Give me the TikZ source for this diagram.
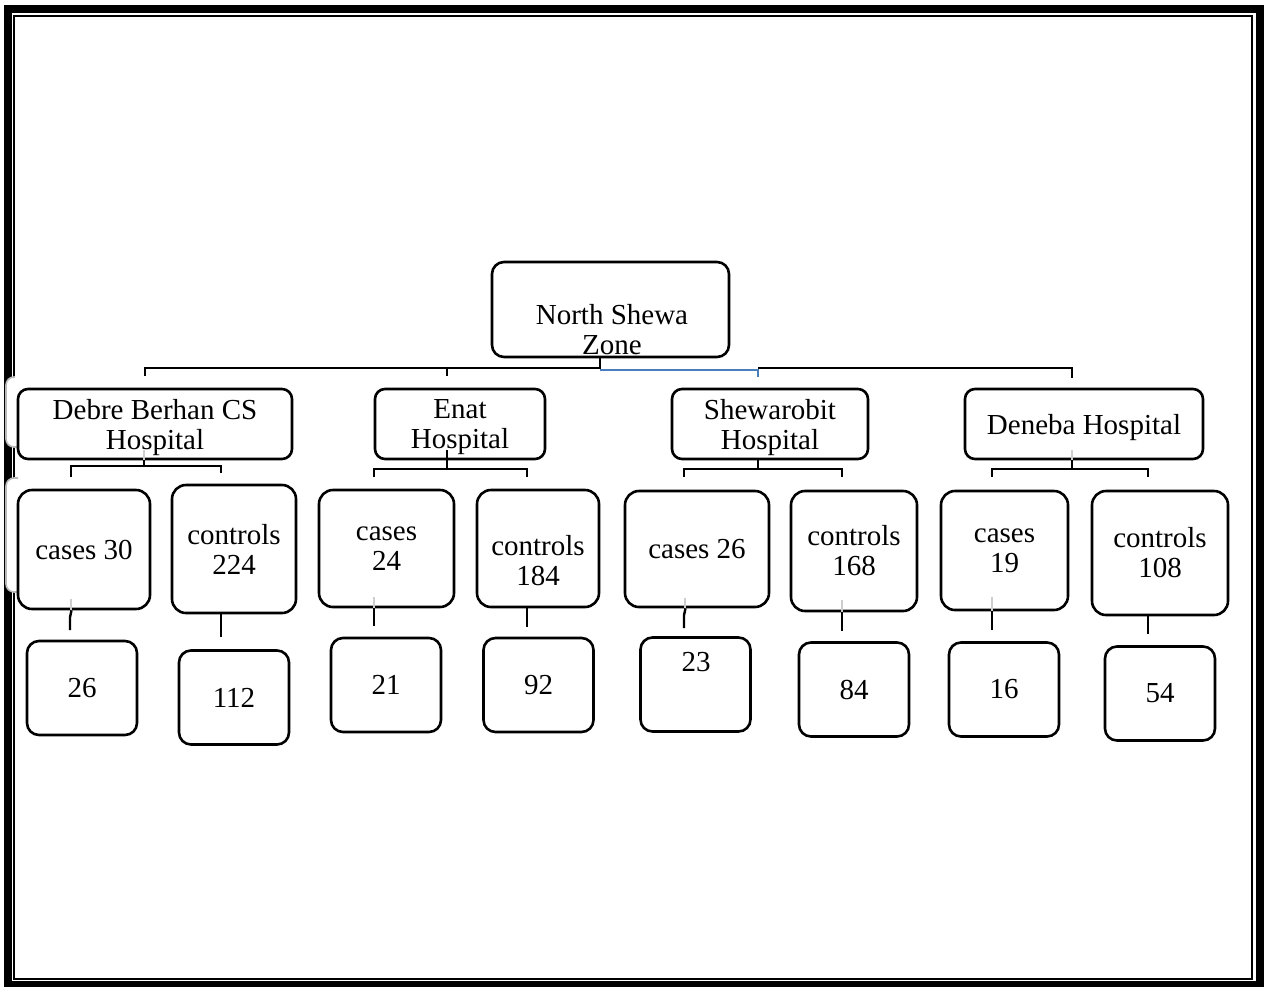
\documentclass[tikz,border=0pt]{standalone}
\usepackage{fontspec}
\setmainfont{Liberation Serif}
\definecolor{linkblue}{RGB}{74,126,187}
\definecolor{faintgray}{RGB}{205,205,205}

\begin{document}
\begin{tikzpicture}[x=1pt, y=-1pt, font=\fontsize{29}{30}\selectfont,
  box/.style={draw, fill=white, line width=2.6, rounded corners=10, inner sep=0pt, align=center},
  site/.style={box, minimum height=70, text depth=0pt},
  group/.style={box, rounded corners=14},
  count/.style={box, rounded corners=12, minimum width=110, minimum height=94},
  tree/.style={line width=2.4},
  faint/.style={faintgray, line width=2},
  ghost/.style={draw=gray!55, fill=white, line width=1.6, rounded corners=8}]

  \useasboundingbox (0,0) rectangle (1264,986);

  % ── Page frame ────────────────────────────────────────────────────────
  \draw[line width=8] (8,9) rectangle (1259.5,985);
  \draw[line width=2] (14,15.7) rectangle (1252,979);

  % left margin leftovers
  \filldraw[ghost] (15,377) -- (6,377) -- (6,447) -- (22,447);
  \filldraw[ghost] (18,478) -- (6,478) -- (6,592) -- (22,592);

  % ── Zone ──────────────────────────────────────────────────────────────
  \node[box, rounded corners=12, minimum width=237, minimum height=95] (root) at (610.5,309.5) {};
  \node[inner sep=0pt, align=center] (rootText) at (612,330) {North Shewa\\Zone};

  % ── Hospitals ─────────────────────────────────────────────────────────
  \node[site, minimum width=274] (debre)  at (155,424)  {Debre Berhan CS\\Hospital};
  \node[site, minimum width=170] (enat)   at (460,424)  {Enat\\Hospital};
  \node[site, minimum width=196] (shewa)  at (770,424)  {Shewarobit\\Hospital};
  \node[site, minimum width=238] (deneba) at (1084,424) {Deneba Hospital};

  % ── Cases / controls ──────────────────────────────────────────────────
  \node[group, minimum width=132, minimum height=119] (dbCases) at (84,549.5)   {cases 30};
  \node[group, minimum width=124, minimum height=128] (dbCtrl)  at (234,549)    {controls\\224};
  \node[group, minimum width=135, minimum height=117] (enCases) at (386.5,548.5) {cases\\24};
  \node[group, minimum width=122, minimum height=117] (enCtrl)  at (538,548.5)  {};
  \node[inner sep=0pt, align=center] (enCtrlText) at (538,561) {controls\\184};
  \node[group, minimum width=144, minimum height=116] (swCases) at (697,549)    {cases 26};
  \node[group, minimum width=126, minimum height=120] (swCtrl)  at (854,551)    {controls\\168};
  \node[group, minimum width=127, minimum height=119] (dnCases) at (1004.5,550.5) {cases\\19};
  \node[group, minimum width=136, minimum height=124] (dnCtrl)  at (1160,553)   {controls\\108};

  % ── Included ──────────────────────────────────────────────────────────
  \node[count] (n26)  at (82,688)      {26};
  \node[count] (n112) at (234,697.5)   {112};
  \node[count] (n21)  at (386,685)     {21};
  \node[count] (n92)  at (538.5,685)   {92};
  \node[count] (n23)  at (695.5,684.5) {};
  \node[inner sep=0pt] (n23Text) at (696,662) {23};
  \node[count] (n84)  at (854,689.5)   {84};
  \node[count] (n16)  at (1004,689.5)  {16};
  \node[count] (n54)  at (1160,693.5)  {54};

  % ── Zone to hospitals ─────────────────────────────────────────────────
  \coordinate (hub)       at (600,368);
  \coordinate (hubEnd)    at (758,368);
  \coordinate (debreTop)  at (145,376);
  \coordinate (enatTop)   at (447,376);
  \coordinate (shewaTop)  at (758,377);
  \coordinate (denebaTop) at (1072,378);
  \draw[tree] (root.south -| hub) -- (hub) -| (debreTop);
  \draw[tree] (hub) -| (enatTop);
  \draw[tree] (hubEnd) -| (denebaTop);
  \draw[linkblue, line width=2] ([yshift=-1.5pt]hub) -| (shewaTop);

  % ── Hospitals to cases / controls ─────────────────────────────────────
  \coordinate (dbJoin) at (144,466);
  \coordinate (enJoin) at (447,469);
  \coordinate (swJoin) at (758,469);
  \coordinate (dnJoin) at (1072,469);
  \draw[faint] (debre.south -| dbJoin) -- ++(0,-10);
  \draw[faint] (deneba.south -| dnJoin) -- ++(0,-10);
  \draw[tree] (debre.south -| dbJoin) -- (dbJoin) -| (71,477);
  \draw[tree] (dbJoin) -| (221,473);
  \draw[tree] ([yshift=10pt]enat.south -| enJoin) -- (enJoin) -| (374,477);
  \draw[tree] (enJoin) -| (527,477);
  \draw[tree] (shewa.south -| swJoin) -- (swJoin) -| (684,477);
  \draw[tree] (swJoin) -| (842,477);
  \draw[tree] (deneba.south -| dnJoin) -- (dnJoin) -| (992,477);
  \draw[tree] (dnJoin) -| (1148,477);

  % ── Cases / controls to included ──────────────────────────────────────
  \coordinate (dbCasesEnd) at (70,630);
  \coordinate (dbCtrlEnd)  at (221,637);
  \coordinate (enCasesEnd) at (374,626);
  \coordinate (enCtrlEnd)  at (527,627);
  \coordinate (swCasesEnd) at (684,628);
  \coordinate (swCtrlEnd)  at (842,631);
  \coordinate (dnCasesEnd) at (992,630);
  \coordinate (dnCtrlEnd)  at (1148,634);
  \draw[faint] ([xshift=1pt]dbCases.south -| dbCasesEnd) -- ++(0,-11);
  \draw[faint] (enCases.south -| enCasesEnd) -- ++(0,-11);
  \draw[faint] ([xshift=1pt]swCases.south -| swCasesEnd) -- ++(0,-10);
  \draw[faint] (swCtrl.south -| swCtrlEnd) -- ++(0,-12);
  \draw[faint] (dnCases.south -| dnCasesEnd) -- ++(0,-14);
  % slightly bent stems under two of the cases boxes
  \draw[tree] ([xshift=1.5pt]dbCases.south -| dbCasesEnd) -- ++(-1.5,7) -- (dbCasesEnd);
  \draw[tree] (dbCtrl.south -| dbCtrlEnd) -- (dbCtrlEnd);
  \draw[tree] (enCases.south -| enCasesEnd) -- (enCasesEnd);
  \draw[tree] (enCtrl.south -| enCtrlEnd) -- (enCtrlEnd);
  \draw[tree] ([xshift=1.5pt]swCases.south -| swCasesEnd) -- ++(-1.5,7) -- (swCasesEnd);
  \draw[tree] (swCtrl.south -| swCtrlEnd) -- (swCtrlEnd);
  \draw[tree] (dnCases.south -| dnCasesEnd) -- (dnCasesEnd);
  \draw[tree] (dnCtrl.south -| dnCtrlEnd) -- (dnCtrlEnd);

\end{tikzpicture}
\end{document}
